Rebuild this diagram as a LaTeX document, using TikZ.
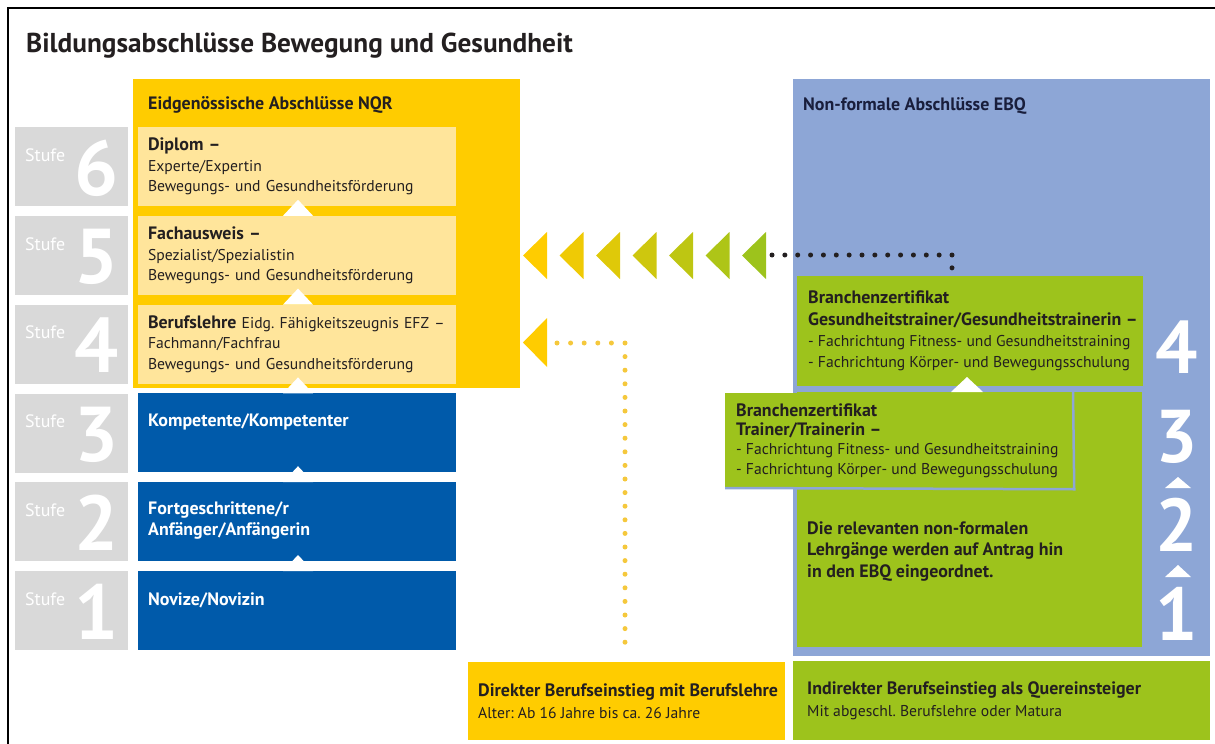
\documentclass[tikz,border=0pt]{standalone}
\usepackage{fontspec}
\setmainfont{PT Sans}
\usetikzlibrary{positioning}

\definecolor{nqryellow}{RGB}{255,204,0}
\definecolor{nqrlight}{RGB}{255,229,155}
\definecolor{stufegray}{RGB}{217,217,217}
\definecolor{levelblue}{RGB}{0,90,170}
\definecolor{ebqblue}{RGB}{141,166,214}
\definecolor{ebqgreen}{RGB}{157,195,28}
\definecolor{darktext}{RGB}{35,31,32}
\definecolor{navytext}{RGB}{25,30,60}
\definecolor{dotyellow}{RGB}{245,200,60}

\newcommand{\txtfont}{\fontsize{15.7}{20.5}\selectfont}
\newcommand{\headfont}{\fontsize{18}{21}\selectfont\bfseries}
\newcommand{\hl}[1]{{\fontsize{18}{21}\selectfont\bfseries #1}}

\begin{document}
\frenchspacing
\begin{tikzpicture}[x=1bp, y=-1bp,
	plate/.style={anchor=north west, inner xsep=10bp, inner ysep=0pt, outer sep=0pt, align=left, font=\txtfont, text=darktext},
	stufebox/.style={anchor=north west, fill=stufegray, minimum width=113bp, minimum height=79bp, inner sep=0pt},
	nqrbox/.style={plate, fill=nqrlight, minimum height=79bp, text width=298bp},
	levelbox/.style={plate, fill=levelblue, minimum height=79bp, text width=298bp},
	greenbox/.style={anchor=north west, fill=ebqgreen, inner sep=0pt, outer sep=0pt},
	boxtext/.style={anchor=west, inner sep=0pt, align=left, text=darktext},
	bluetext/.style={anchor=west, inner sep=0pt, align=left, font=\headfont, text=white},
	bigdigit/.style={inner sep=0pt, font=\fontsize{78}{78}\selectfont\bfseries, text=white},
	notch/.style={fill=white},
	blackdots/.style={line width=5bp, line cap=round, dash pattern=on 0pt off 12.857bp, darktext},
	yellowdots/.style={line width=5bp, line cap=round, dash pattern=on 0pt off 13.6bp, dotyellow}]

	\useasboundingbox (0,0) rectangle (1215,744);

	% frame and title
	\draw[line width=2bp] (8,744) -- (8,8) -- (1215,8);
	\node[anchor=west, inner sep=0pt, font=\fontsize{27.4}{30}\selectfont\bfseries, text=darktext] (title) at (26,46)
	{Bildungsabschlüsse Bewegung und Gesundheit};

	% NQR
	\fill[nqryellow] (133,79) rectangle (520,388);
	\node[anchor=west, inner sep=0pt, font=\headfont, text=darktext] (nqr) at (148,105) {Eidgenössische Abschlüsse NQR};

	\node[nqrbox] (dipl) at (138,127)
	{\hl{Diplom –}\\Experte/Expertin\\Bewegungs- und Gesundheitsförderung};
	\node[nqrbox] (fach) at (138,215.8)
	{\hl{Fachausweis –}\\Spezialist/Spezialistin\\Bewegungs- und Gesundheitsförderung};
	\node[nqrbox] (lehre) at (138,304.6)
	{\hl{Berufslehre} Eidg. Fähigkeitszeugnis EFZ –\\Fachmann/Fachfrau\\Bewegungs- und Gesundheitsförderung};

	\node[levelbox] (lvl3) at (138,393.4) {};
	\node[levelbox] (lvl2) at (138,482.2) {};
	\node[levelbox] (lvl1) at (138,571) {};
	\node[bluetext] (lvl3txt) at (148,422) {Kompetente/Kompetenter};
	\node[bluetext] (lvl2txt) at (148,520.5) {Fortgeschrittene/r\\Anfänger/Anfängerin};
	\node[bluetext] (lvl1txt) at (148,600) {Novize/Novizin};

	% stufen
	\foreach \n in {1,...,6}{
		\pgfmathsetmacro{\top}{127+(6-\n)*88.8}
		\node[stufebox] (stufe\n) at (15,\top) {};
		\node[anchor=west, inner sep=0pt, font=\fontsize{18}{18}\selectfont, text=white] at (25,\top+28) {Stufe};
		\node[bigdigit, anchor=base east] at (119,\top+68) {\n};
	}

	% notches
	\foreach \y in {215.8,304.6,393.4,482.2,571}
		\fill[notch] (283,\y) -- (313,\y) -- (298,\y-16) -- cycle;

	% EBQ
	\fill[ebqblue] (793,79) rectangle (1210,656);
	\node[anchor=west, inner sep=0pt, font=\headfont, text=navytext] (ebq) at (803,106) {Non-formale Abschlüsse EBQ};

	\node[greenbox, minimum width=346bp, minimum height=110bp] (gtr) at (797,276) {};
	\node[boxtext, font=\fontsize{15.7}{21.3}\selectfont] (gtrtxt) at ([xshift=11bp]gtr.west)
	{\hl{Branchenzertifikat}\\\hl{Gesundheitstrainer/Gesundheitstrainerin –}\\- Fachrichtung Fitness- und Gesundheitstraining\\- Fachrichtung Körper- und Bewegungsschulung};

	\node[greenbox, minimum width=345bp, minimum height=255bp] (lower) at (797,392) {};
	\node[boxtext, font=\fontsize{18}{21.5}\selectfont\bfseries] (antrag) at (807,551.5)
	{Die relevanten non-formalen\\Lehrgänge werden auf Antrag hin\\in den EBQ eingeordnet.};

	\node[greenbox, minimum width=348bp, minimum height=95bp] (trainer) at (725,393) {};
	\draw[ebqblue, line width=2.5bp] ([yshift=1.25bp]trainer.north east) -- ([xshift=1.25bp,yshift=-1.25bp]trainer.south east) -- (trainer.south west);
	\node[boxtext, font=\fontsize{15.7}{19.5}\selectfont] (trainertxt) at ([xshift=11bp]trainer.west)
	{\hl{Branchenzertifikat}\\\hl{Trainer/Trainerin –}\\- Fachrichtung Fitness- und Gesundheitstraining\\- Fachrichtung Körper- und Bewegungsschulung};

	\fill[notch] (951,392) -- (983,392) -- (967,377) -- cycle;

	% ebq levels
	\node[bigdigit, font=\fontsize{75}{75}\selectfont\bfseries, anchor=base] (e4) at (1177,373) {4};
	\node[bigdigit, font=\fontsize{75}{75}\selectfont\bfseries, anchor=base] (e3) at (1177,462) {3};
	\node[bigdigit, font=\fontsize{75}{75}\selectfont\bfseries, anchor=base] (e2) at (1177,551) {2};
	\node[bigdigit, font=\fontsize{75}{75}\selectfont\bfseries, anchor=base] (e1) at (1177,640) {1};
	\fill[notch] (1165,488) -- (1191,488) -- (1178,477) -- cycle;
	\fill[notch] (1165,577) -- (1191,577) -- (1178,565) -- cycle;

	% chevrons
	\foreach \i in {0,...,6}{
		\pgfmathsetmacro{\tipx}{523+36.5*\i}
		\pgfmathtruncatemacro{\mix}{100*\i/6}
		\fill[ebqgreen!\mix!nqryellow] (\tipx,255.5) -- (\tipx+24,232) -- (\tipx+24,279) -- cycle;
	}
	\fill[nqryellow] (523,342.5) -- (547,318) -- (547,367) -- cycle;

	% dotted connections
	\coordinate (chevend) at (772,255);
	\coordinate (gtrdot) at (952,276);
	\draw[blackdots] (chevend) -| (gtrdot);
	\coordinate (lehrearrow) at (557,343);
	\coordinate (direktdot) at (625,650);
	\draw[yellowdots] (lehrearrow) -| (direktdot);

	% entry boxes
	\node[greenbox, fill=nqryellow, minimum width=317bp, minimum height=78bp] (direkt) at (468,662) {};
	\node[boxtext, font=\fontsize{15.7}{22}\selectfont] (direkttxt) at ([xshift=10bp]direkt.west)
	{\hl{Direkter Berufseinstieg mit Berufslehre}\\Alter: Ab 16 Jahre bis ca. 26 Jahre};
	\node[greenbox, minimum width=417bp, minimum height=79bp] (indirekt) at (793,661) {};
	\node[boxtext, font=\fontsize{15.7}{22}\selectfont] (indirekttxt) at ([xshift=14bp]indirekt.west)
	{\hl{Indirekter Berufseinstieg als Quereinsteiger}\\Mit abgeschl. Berufslehre oder Matura};

\end{tikzpicture}
\end{document}
